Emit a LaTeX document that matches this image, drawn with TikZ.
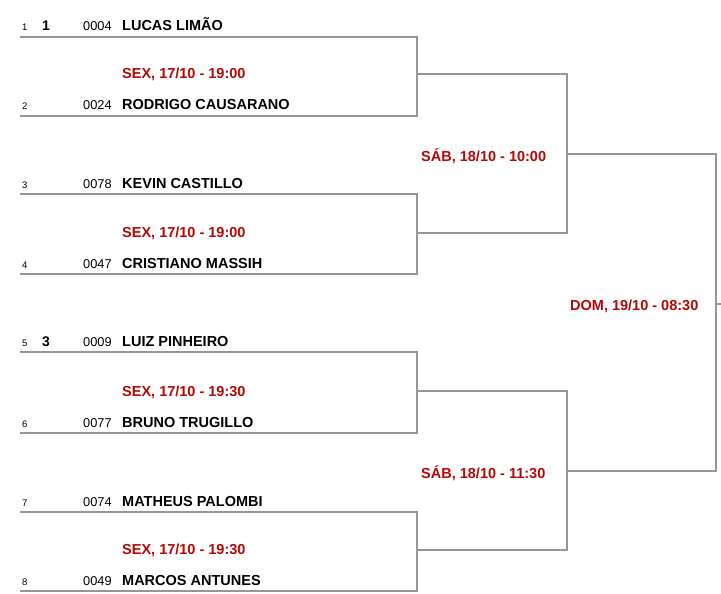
\documentclass[tikz,border=0pt]{standalone}
\usepackage{fontspec}
\setmainfont{Liberation Sans}
\usetikzlibrary{positioning}
\definecolor{datered}{RGB}{180,8,8}
\definecolor{linegray}{RGB}{150,150,150}

\begin{document}
\begin{tikzpicture}[x=1pt,y=-1pt,
        line/.style={draw=linegray,line width=2.5pt},
        idx/.style={anchor=base west,inner sep=0pt,font=\fontsize{9.5}{11}\selectfont},
        seed/.style={anchor=base west,inner sep=0pt,font=\fontsize{14}{16}\selectfont\bfseries},
        num/.style={anchor=base west,inner sep=0pt,font=\fontsize{12.8}{15}\selectfont},
        player/.style={anchor=base west,inner sep=0pt,font=\fontsize{14.5}{17}\selectfont\bfseries},
        date/.style={anchor=base west,inner sep=0pt,text=datered,font=\fontsize{14.5}{17}\selectfont\bfseries}]

  \useasboundingbox (0,0) rectangle (721,594);

  % players
  \foreach \i/\y/\s/\id/\name in {1/37/1/0004/LUCAS LIMÃO,
        2/116/{}/0024/RODRIGO CAUSARANO,
        3/194/{}/0078/KEVIN CASTILLO,
        4/274/{}/0047/CRISTIANO MASSIH,
        5/352/3/0009/LUIZ PINHEIRO,
        6/433/{}/0077/BRUNO TRUGILLO,
        7/512/{}/0074/MATHEUS PALOMBI,
        8/591/{}/0049/MARCOS ANTUNES}{
    \coordinate (a\i) at (20,\y);
    \node[idx] (i\i) at (22,\y-6) {\i};
    \node[seed] (s\i) at (42,\y-6) {\s};
    \node[num] (id\i) at (83,\y-6) {\id};
    \node[player] (n\i) at (122,\y-6) {\name};
  }

  % matches
  \coordinate (m1) at (417,74);
  \coordinate (m2) at (417,233);
  \coordinate (m3) at (417,391);
  \coordinate (m4) at (417,550);
  \coordinate (q1) at (567,154);
  \coordinate (q2) at (567,471);
  \coordinate (f) at (716,304);
  \coordinate (fout) at (721,304);

  \node[date] (d1) at (122,79) {SEX, 17/10 - 19:00};
  \node[date] (d2) at (122,237) {SEX, 17/10 - 19:00};
  \node[date] (d3) at (122,396) {SEX, 17/10 - 19:30};
  \node[date] (d4) at (122,554) {SEX, 17/10 - 19:30};
  \node[date] (e1) at (421,161) {SÁB, 18/10 - 10:00};
  \node[date] (e2) at (421,478) {SÁB, 18/10 - 11:30};
  \node[date] (g) at (570,310) {DOM, 19/10 - 08:30};

  \path[line] (a1) -| (m1)  (a2) -| (m1)
              (a3) -| (m2)  (a4) -| (m2)
              (a5) -| (m3)  (a6) -| (m3)
              (a7) -| (m4)  (a8) -| (m4)
              (m1) -| (q1)  (m2) -| (q1)
              (m3) -| (q2)  (m4) -| (q2)
              (q1) -| (f)   (q2) -| (f)
              (f) -- (fout);

\end{tikzpicture}
\end{document}
